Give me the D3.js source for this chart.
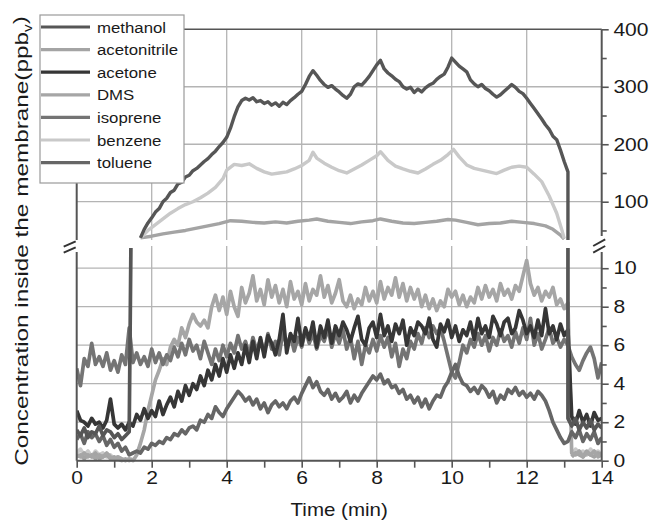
<!DOCTYPE html>
<html>
<head>
<meta charset="utf-8">
<script src="https://cdn.jsdelivr.net/npm/d3@7"></script>
<style>
  body { margin: 0; background: #fff; }
  text { font-family: "Liberation Sans", Arial, sans-serif; fill: #1a1a1a; }
</style>
</head>
<body>
<svg id="chart" width="652" height="521"></svg>
<script>
// Membrane concentration chart (broken y axis: ppbv, upper 33-400, lower 0-11)

// ---- data ----
const timeDomain = [0, 14]
const upperDomain = [33.4, 400]
const lowerDomain = [0, 11.05]
const timeTicks = [0, 2, 4, 6, 8, 10, 12, 14]
const timeMinorTicks = [1, 3, 5, 7, 9, 11, 13]
const gridTimes = [2, 4, 6, 8, 10, 12]
const upperTicks = [100, 200, 300, 400]
const upperMinorTicks = [50, 150, 250, 350]
const upperGrid = [100, 200, 300]
const lowerTicks = [0, 2, 4, 6, 8, 10]
const lowerMinorTicks = [1, 3, 5, 7, 9]
const lowerGrid = [2, 4, 6, 8, 10]

const sampleStep = 0.1

// lower panel, sampled every 0.1 min from t = 0 to 13.1, then 13.2 to 14.0
const acetoneMain = [
  2.6, 2.1, 2.0, 1.8, 2.2, 1.9, 2.0, 1.7, 2.1, 3.2,
  1.9, 1.7, 1.9, 1.6, 2.0, 1.8, 2.4, 2.1, 2.7, 2.2,
  2.6, 2.3, 3.1, 2.4, 2.9, 3.3, 2.8, 3.6, 3.1, 3.9,
  3.4, 4.0, 3.7, 4.4, 3.9, 4.7, 4.2, 5.0, 4.4, 5.3,
  4.6, 5.5, 4.8, 5.6, 5.0, 6.0, 5.1, 6.2, 5.3, 6.4,
  5.4, 6.5, 6.1, 5.5, 6.3, 7.6, 5.6, 6.6, 6.2, 7.4,
  6.0, 6.9, 6.3, 7.2, 5.9, 7.0, 6.4, 7.3, 6.1, 7.0,
  6.5, 7.2, 6.8, 6.2, 6.9, 7.5, 6.3, 6.0, 6.9, 7.2,
  6.4, 7.6, 6.5, 7.0, 6.2, 7.1, 6.6, 7.3, 6.0, 6.9,
  6.5, 7.2, 7.0, 6.6, 7.4, 6.3, 5.9, 7.1, 6.7, 7.3,
  6.4, 7.0, 6.2, 6.8, 6.5, 7.2, 6.3, 7.4, 6.6, 7.0,
  6.4, 7.5, 7.1, 6.5, 7.2, 7.4, 6.6, 6.9, 7.8, 7.3,
  6.6, 7.0, 6.4, 7.3, 6.5, 7.9, 6.6, 7.0, 6.3, 7.1,
  6.5, 6.8
]
const acetoneTail = [2.3, 1.9, 2.6, 2.0, 2.4, 1.8, 2.5, 2.1, 2.2]

const dmsMain = [
  0.3, 0.2, 0.4, 0.2, 0.3, 0.1, 0.3, 0.2, 0.4, 0.2,
  0.1, 0.2, 0.1, 0.0, 0.1, 0.0, 0.3, 0.9, 1.6, 2.6,
  3.4, 4.2, 4.7, 5.3, 5.0, 5.9, 6.3, 6.0, 6.9, 6.4,
  7.1, 7.6, 7.2, 7.0, 7.3, 6.9, 8.0, 8.6, 7.8, 8.5,
  7.6, 8.8, 8.0, 7.5, 9.0, 8.2, 8.7, 9.6, 8.3, 8.9,
  8.1, 9.4, 8.5, 9.1, 8.2, 8.9, 8.0, 9.3, 8.4, 8.8,
  8.1, 9.2, 8.3, 8.9, 8.6, 9.6, 8.5, 9.1, 8.2, 8.7,
  9.4, 8.3, 8.0, 8.6, 7.9, 8.4, 8.1, 9.0, 8.3, 8.8,
  8.2, 9.3, 8.4, 9.0, 8.6, 9.5, 8.5, 9.2, 8.3, 9.0,
  8.4, 8.9, 8.0, 8.6, 7.9, 8.4, 7.8, 8.3, 8.0, 8.9,
  8.5, 8.8, 8.1, 8.6, 8.0, 8.5, 8.2, 9.0, 8.4, 9.1,
  8.5, 8.9, 8.3, 9.2, 8.6, 8.9, 8.4, 9.1, 8.8, 9.6,
  10.4, 9.2, 8.6, 9.0, 8.3, 8.8, 8.5, 9.0, 8.1, 8.4,
  7.9, 8.2
]
const dmsTail = [0.4, 0.3, 0.5, 0.2, 0.4, 0.3, 0.5, 0.2, 0.3]

const isopreneMain = [
  4.8, 3.9, 5.3, 4.9, 6.1, 5.0, 5.4, 4.9, 5.6, 4.7,
  5.2, 4.6, 5.5, 5.0, 6.9, 5.1, 5.6, 5.0, 5.4, 4.9,
  5.8, 5.1, 5.6, 5.0, 5.5, 5.2, 5.9, 5.4, 6.1, 5.5,
  6.3, 5.7, 6.0, 5.3, 6.2, 5.6, 5.0, 5.8, 5.2, 6.0,
  5.4, 6.1, 5.6, 6.5, 5.8, 6.2, 5.5, 6.4, 5.7, 6.3,
  5.6, 6.6, 5.8, 6.2, 5.5, 6.7, 6.0, 6.5, 5.7, 6.4,
  5.9, 6.8, 6.1, 6.6, 5.8, 6.5, 6.2, 6.9, 5.9, 6.6,
  6.1, 6.8, 5.8, 6.4, 5.3, 6.2, 5.0, 6.0, 5.6, 6.3,
  5.7, 6.5, 5.9, 6.4, 5.4, 6.1, 4.9, 5.8, 5.3, 6.2,
  5.8, 6.6, 6.1, 6.9, 6.4, 7.0, 6.6, 6.9, 6.2, 5.4,
  4.6, 4.3, 5.1, 6.0, 5.6, 6.3, 5.9, 6.6, 6.0, 6.5,
  5.7, 6.4, 6.0, 6.8, 6.2, 6.5, 5.9, 6.7, 6.1, 6.9,
  6.3, 7.4, 6.0, 6.6, 5.8, 6.3, 6.9, 6.1, 6.4, 5.9,
  6.3, 6.0
]
const isopreneTail = [5.4, 5.0, 4.7, 5.2, 5.6, 5.9, 5.3, 4.3, 5.1]

const tolueneMain = [
  1.1, 1.4, 0.9, 1.5, 1.2, 1.4, 1.0, 1.3, 0.8, 1.1,
  0.7, 0.9, 0.5, 0.7, 0.3, 0.4, 0.5, 0.4, 0.7, 0.6,
  0.9, 0.8, 1.0, 0.9, 1.2, 1.1, 1.4, 1.3, 1.6, 1.4,
  1.7, 1.8, 1.6, 2.1, 2.0, 2.4, 2.2, 2.8, 2.5, 2.3,
  2.7, 3.0, 3.3, 3.6, 3.4, 3.1, 3.3, 2.9, 3.2, 2.7,
  3.0, 2.5, 2.9, 3.1, 2.8, 3.0, 2.7, 3.1, 3.3, 3.0,
  3.5, 3.9, 4.3, 3.8, 4.1, 3.6, 3.4, 3.7, 3.2, 3.5,
  3.1, 3.3, 3.6, 3.0, 3.4, 3.1, 3.5, 3.8, 4.1, 4.4,
  4.2, 4.5, 4.0, 4.2, 3.8, 3.9, 3.5, 3.7, 3.2, 3.4,
  3.0, 3.3, 2.8, 3.2, 2.7, 3.1, 3.4, 3.3, 3.8, 4.1,
  4.6, 5.0, 4.4, 4.0, 3.9, 3.6, 3.8, 3.5, 3.9, 3.7,
  3.3, 3.6, 3.0, 3.4, 3.2, 3.7, 3.5, 3.8, 3.4, 3.6,
  3.3, 3.5, 3.2, 3.6, 3.4, 3.1, 2.6, 2.0, 1.6, 1.2,
  0.9, 1.0
]
const tolueneTail = [1.5, 1.2, 1.6, 1.0, 1.4, 1.1, 1.5, 0.9, 1.2]

// low readings before the membrane is exposed (t 0-1.5) and after (t 13.2-14)
const benzeneHead = [0.4, 0.6, 0.3, 0.5, 0.2, 0.5, 0.3, 0.4, 0.2, 0.3, 0.1, 0.2, 0.1, 0.0, 0.1, 0.0]
const benzeneTail = [0.3, 0.6, 0.4, 0.5, 0.3, 0.6, 0.4, 0.5, 0.3]
const acetonitrileHead = [0.2, 0.3, 0.1, 0.3, 0.2, 0.4, 0.1, 0.2, 0.3, 0.1, 0.2, 0.1, 0.0, 0.1, 0.0, 0.1]
const acetonitrileTail = [0.2, 0.4, 0.3, 0.2, 0.5, 0.3, 0.2, 0.4, 0.3]
const methanolHead = [1.6, 1.3, 1.7, 1.2, 1.5, 1.4, 1.8, 1.3, 1.6, 1.5, 1.2, 1.4, 1.1, 1.3, 1.5]
const methanolTail = [1.8, 2.2, 1.6, 2.0, 1.7, 2.1, 1.6, 1.9, 1.7]
const methanolJumpUp = 1.45 // min, rises off the lower panel
const methanolJumpDown = 13.1 // min, drops back
const methanolDropLevel = 2.2

// upper panel
const methanolUpperStart = 1.7
const methanolUpper = [
  37, 52, 63, 72, 82, 88, 100, 106, 116, 120,
  131, 134, 143, 146, 154, 158, 164, 170, 175, 182,
  188, 196, 203, 212, 228, 248, 265, 276, 280, 277,
  281, 274, 276, 271, 274, 268, 272, 266, 273, 269,
  276, 281, 287, 292, 304, 318, 328, 320, 311, 304,
  299, 302, 296, 291, 285, 280, 287, 300, 305, 303,
  310, 318, 328, 338, 346, 331, 324, 319, 313, 309,
  300, 296, 299, 290, 296, 291, 298, 303, 306, 313,
  318, 322, 334, 350, 343, 336, 331, 326, 312, 305,
  300, 304, 297, 293, 287, 282, 286, 292, 298, 304,
  299, 292, 288, 280, 271, 262, 253, 244, 234, 226,
  214, 208, 190, 170, 152
]
const benzeneUpper = [
  [1.7, 37], [1.9, 50], [2.1, 60], [2.3, 70], [2.5, 80], [2.7, 88], [2.9, 95], [3.1, 100],
  [3.3, 107], [3.5, 115], [3.7, 125], [3.9, 140], [4.0, 155], [4.2, 165], [4.4, 163], [4.6, 166],
  [4.8, 158], [5.0, 152], [5.2, 148], [5.4, 150], [5.6, 152], [5.8, 157], [6.0, 163], [6.2, 172],
  [6.3, 186], [6.4, 176], [6.6, 167], [6.8, 160], [7.0, 154], [7.2, 150], [7.4, 157], [7.6, 164],
  [7.8, 172], [8.0, 180], [8.1, 187], [8.3, 172], [8.5, 162], [8.7, 157], [8.9, 153], [9.1, 150],
  [9.3, 157], [9.5, 165], [9.7, 172], [9.9, 182], [10.05, 191], [10.2, 178], [10.4, 164], [10.6, 158],
  [10.8, 155], [11.0, 152], [11.2, 149], [11.4, 155], [11.6, 160], [11.8, 162], [12.0, 160], [12.2, 148],
  [12.4, 135], [12.6, 110], [12.8, 80], [12.95, 48], [13.0, 36]
]
const acetonitrileUpper = [
  [1.7, 37], [2.0, 40], [2.3, 44], [2.6, 47], [2.9, 50], [3.2, 54], [3.5, 58], [3.8, 62],
  [4.1, 67], [4.4, 66], [4.7, 64], [5.0, 63], [5.3, 65], [5.6, 63], [5.9, 66], [6.2, 68],
  [6.4, 70], [6.7, 66], [7.0, 64], [7.3, 62], [7.6, 65], [7.9, 67], [8.1, 70], [8.4, 66],
  [8.7, 63], [9.0, 62], [9.3, 64], [9.6, 66], [9.9, 69], [10.1, 68], [10.4, 64], [10.7, 60],
  [11.0, 62], [11.3, 63], [11.6, 66], [11.9, 64], [12.2, 62], [12.5, 58], [12.7, 52], [12.9, 42],
  [13.0, 35]
]

const legendNames = ['methanol', 'acetonitrile', 'acetone', 'DMS', 'isoprene', 'benzene', 'toluene']
const seriesColors = {
  methanol: '#565656',
  acetonitrile: '#a4a4a4',
  acetone: '#363636',
  DMS: '#a6a6a6',
  isoprene: '#747474',
  benzene: '#c9c9c9',
  toluene: '#666666'
}

// ---- layout ----
const plotLeft = 76.7
const plotRight = 601.7
const upperTopPx = 29.3
const upperBottomPx = 240
const lowerTopPx = 248
const lowerBottomPx = 460.7
const fontFamily = '"Liberation Sans", Arial, sans-serif'
const axisColor = '#555'

const svg = d3.select('#chart')

const x = d3.scaleLinear().domain(timeDomain).range([plotLeft, plotRight])
const yUpper = d3.scaleLinear().domain(upperDomain).range([upperBottomPx, upperTopPx])
const yLower = d3.scaleLinear().domain(lowerDomain).range([lowerBottomPx, lowerTopPx])

const sampled = (start, values) => values.map((v, i) => [start + i * sampleStep, v])

// each series is drawn as one or more segments, each in one panel
const segments = [
  { name: 'benzene', panel: 'lower', pts: sampled(0, benzeneHead) },
  { name: 'benzene', panel: 'lower', pts: sampled(13.2, benzeneTail) },
  { name: 'acetonitrile', panel: 'lower', pts: sampled(0, acetonitrileHead) },
  { name: 'acetonitrile', panel: 'lower', pts: sampled(13.2, acetonitrileTail) },
  { name: 'DMS', panel: 'lower', pts: sampled(0, dmsMain.concat(dmsTail)) },
  { name: 'isoprene', panel: 'lower', pts: sampled(0, isopreneMain.concat(isopreneTail)) },
  { name: 'toluene', panel: 'lower', pts: sampled(0, tolueneMain.concat(tolueneTail)) },
  { name: 'acetone', panel: 'lower', pts: sampled(0, acetoneMain.concat(acetoneTail)) },
  { name: 'methanol', panel: 'lower', pts: sampled(0, methanolHead).concat([[methanolJumpUp, lowerDomain[1] + 1]]) },
  {
    name: 'methanol',
    panel: 'lower',
    pts: [[methanolJumpDown, lowerDomain[1] + 1], [methanolJumpDown, methanolDropLevel]].concat(sampled(13.2, methanolTail))
  },
  { name: 'acetonitrile', panel: 'upper', pts: acetonitrileUpper },
  { name: 'benzene', panel: 'upper', pts: benzeneUpper },
  {
    name: 'methanol',
    panel: 'upper',
    pts: sampled(methanolUpperStart, methanolUpper).concat([[methanolJumpDown, upperDomain[0] - 5]])
  }
]

// clip paths for the two panels
const defs = svg.append('defs')
defs.append('clipPath').attr('id', 'clipUpper').append('rect')
  .attr('x', plotLeft).attr('y', upperTopPx)
  .attr('width', plotRight - plotLeft).attr('height', upperBottomPx - upperTopPx)
defs.append('clipPath').attr('id', 'clipLower').append('rect')
  .attr('x', plotLeft).attr('y', lowerTopPx)
  .attr('width', plotRight - plotLeft).attr('height', lowerBottomPx - lowerTopPx + 2)

// gridlines
const grid = svg.append('g').attr('stroke', '#b4b4b4').attr('stroke-width', 1.3)
grid.selectAll('.vgu').data(gridTimes).join('line')
  .attr('x1', d => x(d)).attr('x2', d => x(d))
  .attr('y1', upperTopPx).attr('y2', upperBottomPx)
grid.selectAll('.vgl').data(gridTimes).join('line').attr('class', 'vgl')
  .attr('x1', d => x(d)).attr('x2', d => x(d))
  .attr('y1', lowerTopPx - 2).attr('y2', lowerBottomPx)
grid.selectAll('.hgu').data(upperGrid).join('line').attr('class', 'hgu')
  .attr('x1', plotLeft).attr('x2', plotRight)
  .attr('y1', d => yUpper(d)).attr('y2', d => yUpper(d))
grid.selectAll('.hgl').data(lowerGrid).join('line').attr('class', 'hgl')
  .attr('x1', plotLeft).attr('x2', plotRight)
  .attr('y1', d => yLower(d)).attr('y2', d => yLower(d))

// series lines
const lineFor = yScale => d3.line().x(d => x(d[0])).y(d => yScale(d[1]))
const lineUpper = lineFor(yUpper)
const lineLower = lineFor(yLower)

svg.append('g').selectAll('path')
  .data(segments)
  .join('path')
  .attr('clip-path', d => d.panel === 'upper' ? 'url(#clipUpper)' : 'url(#clipLower)')
  .attr('d', d => d.panel === 'upper' ? lineUpper(d.pts) : lineLower(d.pts))
  .attr('fill', 'none')
  .attr('stroke', d => seriesColors[d.name])
  .attr('stroke-width', d => d.panel === 'upper' ? 3.4 : 3.7)
  .attr('stroke-linejoin', 'round')

// frame and axis lines (broken between the panels)
const frame = svg.append('g').attr('stroke', axisColor).attr('stroke-width', 2).attr('fill', 'none')
frame.append('line').attr('x1', plotLeft).attr('x2', plotRight).attr('y1', upperTopPx).attr('y2', upperTopPx).attr('stroke-width', 1.6)
frame.append('line').attr('x1', plotLeft).attr('x2', plotRight).attr('y1', lowerBottomPx).attr('y2', lowerBottomPx)
frame.append('line').attr('x1', plotLeft).attr('x2', plotLeft).attr('y1', upperTopPx).attr('y2', upperBottomPx)
frame.append('line').attr('x1', plotLeft).attr('x2', plotLeft).attr('y1', lowerTopPx + 4).attr('y2', lowerBottomPx)
frame.append('line').attr('x1', plotRight).attr('x2', plotRight).attr('y1', upperTopPx).attr('y2', upperBottomPx - 4)
frame.append('line').attr('x1', plotRight).attr('x2', plotRight).attr('y1', lowerTopPx + 4).attr('y2', lowerBottomPx)

// axis break marks
const breakMarks = [
  [plotLeft - 13, 246.7, plotLeft - 1, 241.3], [plotLeft - 13, 252.7, plotLeft - 1, 247.3],
  [plotRight - 8.5, 246, plotRight + 3.5, 239.3], [plotRight - 8.5, 252.7, plotRight + 3.5, 246]
]
svg.append('g').selectAll('line').data(breakMarks).join('line')
  .attr('x1', d => d[0]).attr('y1', d => d[1]).attr('x2', d => d[2]).attr('y2', d => d[3])
  .attr('stroke', '#333').attr('stroke-width', 2)

// axes
const styleAxis = (g, scaleX) => {
  g.select('.domain').remove()
  g.selectAll('line').attr('stroke', axisColor).attr('stroke-width', 1.6)
  g.attr('font-family', fontFamily).attr('font-size', 18)
  g.selectAll('text').attr('fill', '#1a1a1a').attr('transform', `scale(${scaleX},1)`)
}

svg.append('g').attr('transform', `translate(${plotRight},0)`)
  .call(d3.axisRight(yUpper).tickValues(upperTicks).tickSize(7).tickPadding(3))
  .call(g => styleAxis(g, 1.17))
svg.append('g').attr('transform', `translate(${plotRight},0)`)
  .call(d3.axisRight(yUpper).tickValues(upperMinorTicks).tickSize(5).tickFormat(''))
  .call(g => styleAxis(g, 1))
svg.append('g').attr('transform', `translate(${plotRight},0)`)
  .call(d3.axisRight(yLower).tickValues(lowerTicks).tickSize(7).tickPadding(3))
  .call(g => styleAxis(g, 1.17))
svg.append('g').attr('transform', `translate(${plotRight},0)`)
  .call(d3.axisRight(yLower).tickValues(lowerMinorTicks).tickSize(5).tickFormat(''))
  .call(g => styleAxis(g, 1))
svg.append('g').attr('transform', `translate(0,${lowerBottomPx})`)
  .call(d3.axisBottom(x).tickValues(timeTicks).tickSize(7).tickPadding(4))
  .call(g => styleAxis(g, 1.17))
svg.append('g').attr('transform', `translate(0,${lowerBottomPx})`)
  .call(d3.axisBottom(x).tickValues(timeMinorTicks).tickSize(7).tickFormat(''))
  .call(g => styleAxis(g, 1))

// axis titles
svg.append('text')
  .attr('transform', `translate(${(plotLeft + plotRight) / 2},516) scale(1.14,1)`)
  .attr('text-anchor', 'middle')
  .attr('font-size', 18)
  .text('Time (min)')

const yTitle = svg.append('text')
  .attr('transform', 'translate(28,241) rotate(-90) scale(1.28,1)')
  .attr('text-anchor', 'middle')
  .attr('font-size', 19)
yTitle.append('tspan').text('Concentration inside the membrane(ppb')
yTitle.append('tspan').attr('font-size', 12).attr('dy', '0.35em').text('v')
yTitle.append('tspan').attr('dy', '-0.35em').text(')')

// legend
const legendBox = { x: 40, y: 15, w: 144, h: 168 }
const legendRowStart = 27
const legendRowGap = 22.6
const legend = svg.append('g')
legend.append('rect')
  .attr('x', legendBox.x).attr('y', legendBox.y)
  .attr('width', legendBox.w).attr('height', legendBox.h)
  .attr('fill', '#fff').attr('stroke', '#9a9a9a').attr('stroke-width', 1.2)
const rows = legend.selectAll('.row').data(legendNames).join('g')
  .attr('class', 'row')
  .attr('transform', (d, i) => `translate(0,${legendRowStart + i * legendRowGap})`)
rows.append('line')
  .attr('x1', legendBox.x + 1).attr('x2', 90)
  .attr('stroke', d => seriesColors[d]).attr('stroke-width', 3.2)
rows.append('text')
  .attr('transform', 'translate(97,5.5) scale(1.12,1)')
  .attr('font-size', 15)
  .text(d => d)
</script>
</body>
</html>
